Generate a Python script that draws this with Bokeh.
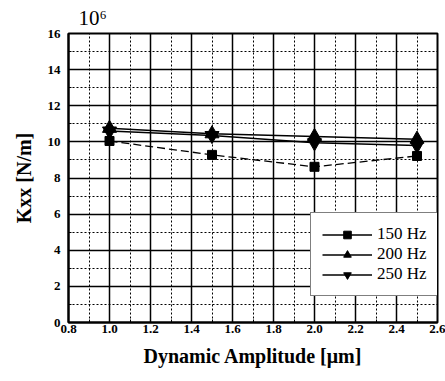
from bokeh.plotting import figure
from bokeh.models import Range1d, FixedTicker, Legend, LegendItem, ColumnDataSource
from bokeh.embed import file_html
from bokeh.resources import INLINE

amplitude = [1.0, 1.5, 2.0, 2.5]
k_150 = [10.05, 9.28, 8.62, 9.22]
k_200 = [10.75, 10.45, 10.3, 10.15]
k_250 = [10.6, 10.35, 9.95, 9.8]
x_ticks = [0.8, 1.0, 1.2, 1.4, 1.6, 1.8, 2.0, 2.2, 2.4, 2.6]
y_ticks = [0, 2, 4, 6, 8, 10, 12, 14, 16]
x_minor = [0.9, 1.1, 1.3, 1.5, 1.7, 1.9, 2.1, 2.3, 2.5]
y_minor = [1, 3, 5, 7, 9, 11, 13, 15]

SERIF = "Liberation Serif"

p = figure(width=445, height=381, output_backend="svg", toolbar_location=None,
           x_range=Range1d(0.8, 2.6), y_range=Range1d(0, 16),
           min_border_left=68, min_border_right=8, min_border_top=4, min_border_bottom=59,
           title="10⁶")
p.title.align = "left"
p.title.offset = 10
p.title.text_font = SERIF
p.title.text_font_size = "21px"
p.title.text_font_style = "normal"
p.title.text_color = "black"
p.title.standoff = 7
p.outline_line_color = "black"
p.outline_line_width = 2
p.background_fill_color = "white"
p.border_fill_color = "white"

for ax, ticks, minor in ((p.xaxis[0], x_ticks, x_minor), (p.yaxis[0], y_ticks, y_minor)):
    ax.ticker = FixedTicker(ticks=ticks, minor_ticks=minor)
    ax.major_tick_out = 0
    ax.major_tick_in = 0
    ax.minor_tick_out = 0
    ax.minor_tick_in = 3
    ax.axis_line_color = "black"
    ax.axis_line_width = 2
    ax.major_label_text_font = SERIF
    ax.major_label_text_font_style = "bold"
    ax.major_label_text_font_size = "13px"
    ax.major_label_text_color = "black"
    ax.axis_label_text_font = SERIF
    ax.axis_label_text_font_style = "bold"
    ax.axis_label_text_font_size = "20px"
    ax.axis_label_text_color = "black"

p.xaxis.axis_label = "Dynamic Amplitude [μm]"
p.yaxis.axis_label = "Kxx [N/m]"
p.xaxis.major_label_standoff = 2
p.yaxis.major_label_standoff = 8
p.xaxis.axis_label_standoff = 9
p.yaxis.axis_label_standoff = 10

p.xaxis.major_label_overrides = {0.8: "0.8", 1.0: "1.0", 1.2: "1.2", 1.4: "1.4", 1.6: "1.6",
                                 1.8: "1.8", 2.0: "2.0", 2.2: "2.2", 2.4: "2.4", 2.6: "2.6"}

for g in (p.xgrid[0], p.ygrid[0]):
    g.grid_line_color = "black"
    g.grid_line_width = 1.5
    g.minor_grid_line_color = "black"
    g.minor_grid_line_width = 1
    g.minor_grid_line_dash = "2 2"

src = ColumnDataSource(dict(x=amplitude, k150=k_150, k200=k_200, k250=k_250))

p.line("x", "k150", source=src, line_color="black", line_width=1.3, line_dash="8 4")
l200 = p.line("x", "k200", source=src, line_color="black", line_width=1.5)
l250 = p.line("x", "k250", source=src, line_color="black", line_width=1.5)
s150 = p.scatter("x", "k150", source=src, marker="square", size=9, color="black")
s200 = p.scatter("x", "k200", source=src, marker="triangle", size=14, color="black")
s250 = p.scatter("x", "k250", source=src, marker="inverted_triangle", size=14, color="black")

# solid line used only for the legend entry of the 150 Hz series (a single point draws nothing)
one = ColumnDataSource(dict(x=amplitude[:1], y=k_150[:1]))
leg_line = p.line("x", "y", source=one, line_color="black", line_width=1.3)

legend = Legend(items=[
    LegendItem(label="150 Hz", renderers=[leg_line, s150]),
    LegendItem(label="200 Hz", renderers=[l200, s200]),
    LegendItem(label="250 Hz", renderers=[l250, s250]),
], location=(242, 26))
legend.margin = 0
legend.border_line_color = "black"
legend.border_line_width = 1.5
legend.background_fill_alpha = 1
legend.label_text_font = SERIF
legend.label_text_font_size = "17px"
legend.label_text_color = "black"
legend.glyph_width = 50
legend.glyph_height = 19
legend.label_height = 19
legend.spacing = 0
legend.padding = 11
legend.label_standoff = 5
p.add_layout(legend, "center")

open("out.html", "w").write(file_html(p, INLINE))
